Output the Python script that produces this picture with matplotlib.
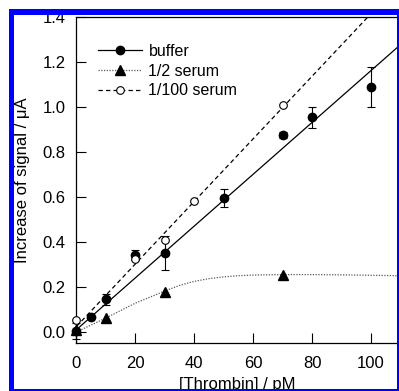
import matplotlib.pyplot as plt
from matplotlib.patches import Rectangle

W, H = 399, 391

# buffer data (mean +- error)
buffer_x = [0, 5, 10, 20, 30, 50, 70, 80, 100]
buffer_y = [0.005, 0.068, 0.145, 0.342, 0.352, 0.595, 0.876, 0.954, 1.088]
buffer_err = [0.035, 0.005, 0.025, 0.022, 0.075, 0.04, 0.012, 0.046, 0.088]

# 1/2 serum
half_x = [0, 10, 30, 70]
half_y = [0.008, 0.063, 0.176, 0.253]

# 1/100 serum
hund_x = [0, 20, 30, 40, 70]
hund_y = [0.053, 0.323, 0.41, 0.58, 1.011]

# fitted lines / curve
buffer_fit_x = [0, 110]
buffer_fit_y = [0.01, 1.277]
hund_fit_x = [0, 110]
hund_fit_y = [0.024, 1.554]
half_fit_x = [0, 10, 20, 30, 35, 40, 45, 50, 55, 60, 70, 80, 90, 100, 110]
half_fit_y = [0.0, 0.062, 0.128, 0.182, 0.207, 0.225, 0.237, 0.245, 0.25, 0.253,
              0.255, 0.255, 0.254, 0.252, 0.25]

xticks = [0, 20, 40, 60, 80, 100]
yticks = [0.0, 0.2, 0.4, 0.6, 0.8, 1.0, 1.2, 1.4]

plt.rcParams['font.family'] = ['Liberation Sans', 'DejaVu Sans']
plt.rcParams['font.size'] = 12

fig = plt.figure(figsize=(W / 100, H / 100), dpi=100)
ax = fig.add_axes([75.5 / W, 48 / H, (W - 75.5) / W, 326 / H])

dotted = (0, (1, 1.2))
dashed = (0, (3.5, 2.5))

ax.plot(buffer_fit_x, buffer_fit_y, color='k', lw=0.9)
ax.plot(hund_fit_x, hund_fit_y, color='k', lw=0.9, ls=dashed)
ax.plot(half_fit_x, half_fit_y, color='0.35', lw=0.9, ls=dotted)

ax.errorbar(buffer_x, buffer_y, yerr=buffer_err, fmt='o', color='k', ms=6,
            capsize=3, elinewidth=0.8, capthick=0.8, clip_on=False, zorder=3)
ax.plot(half_x, half_y, '^', color='k', ms=6.5, clip_on=False, zorder=3)
ax.plot(hund_x, hund_y, 'o', mfc='white', mec='k', mew=0.8, ms=5.5,
        clip_on=False, zorder=4)

# legend proxies
h1, = ax.plot([], [], color='k', lw=0.9, marker='o', ms=6, label='buffer')
h2, = ax.plot([], [], color='0.35', lw=0.9, ls=dotted, marker='^', ms=6.5,
              mfc='k', mec='k', label='1/2 serum')
h3, = ax.plot([], [], color='k', lw=0.9, ls=dashed, marker='o', ms=5.5,
              mfc='white', mew=0.8, label='1/100 serum')
ax.legend(handles=[h1, h2, h3], loc='upper left', bbox_to_anchor=(0.071, 0.918),
          frameon=False, borderpad=0, borderaxespad=0, handlelength=2.75,
          handletextpad=0.38, labelspacing=0.3, fontsize=11.5)

ax.set_xlim(-0.3, 109.5)
ax.set_ylim(-0.049, 1.4)
ax.set_xticks(xticks)
ax.set_yticks(yticks)
ax.set_yticklabels(['%.1f' % v for v in yticks])
ax.tick_params(direction='in', length=7, width=0.8, labelsize=12)
ax.tick_params(axis='y', pad=7)
ax.tick_params(axis='x', pad=9)
for s in ax.spines.values():
    s.set_linewidth(0.9)
ax.spines['right'].set_visible(False)

fig.text(27 / W, 1 - 180 / H, 'Increase of signal / \u03bcA', rotation=90,
         rotation_mode='anchor', ha='center', va='baseline', fontsize=12)
fig.text(237 / W, 1.5 / H, '[Thrombin] / pM', ha='center', va='baseline',
         fontsize=12)


# blue frame around the picture (drawn over the text)
def band(x0, y0, x1, y1):
    fig.add_artist(Rectangle((x0 / W, 1 - y1 / H), (x1 - x0) / W, (y1 - y0) / H,
                             transform=fig.transFigure, color='#0000ff',
                             lw=0, zorder=10))


band(9, 9, W, 15)
band(9, 9, 14, H)
band(397, 9, W, H)
band(9, 389, W, H)

fig.savefig('out.png', dpi=100)
